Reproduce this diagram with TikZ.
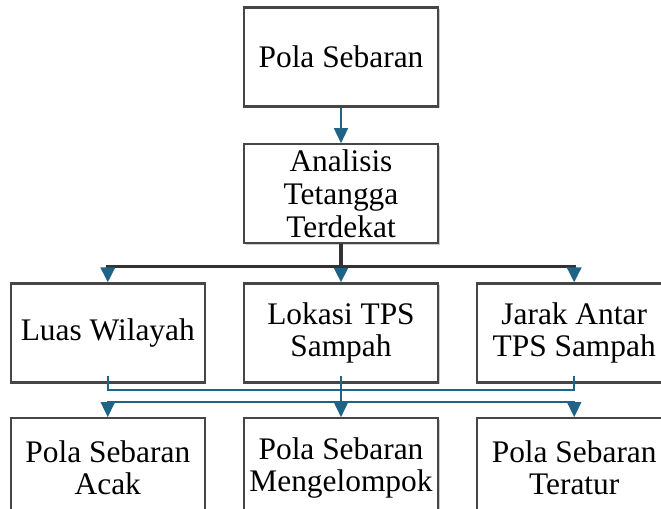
\documentclass[tikz,border=0pt]{standalone}
\usepackage{fontspec}
\setmainfont{Liberation Serif}
\usetikzlibrary{arrows.meta,positioning,shadows}
\definecolor{psBlue}{RGB}{31,99,134}
\definecolor{psGrey}{RGB}{70,70,70}
\definecolor{psDark}{RGB}{50,50,50}

\begin{document}
\begin{tikzpicture}[
  x=0.5pt,y=0.5pt,
  >={Triangle[length=7.5pt,width=7pt,color=psBlue]},
  node distance=17.8pt and 18.5pt,
  psbox/.style={draw=psGrey,fill=white,line width=1.1pt,align=center,
               minimum width=97pt,minimum height=49.5pt,inner sep=1pt,
               font=\fontsize{15.7}{16.3}\selectfont,
               drop shadow={shadow xshift=0.8pt,shadow yshift=-0.8pt,opacity=0.4}},
  trunk/.style={->,psDark,line width=1.7pt},
  bus/.style={psBlue,line width=0.9pt},
]
\useasboundingbox (-341,57) rectangle (320,-452);
\clip (-341,57) rectangle (320,-452);
\node[psbox] (pola) at (0,0) {Pola Sebaran};
\node[psbox,below=of pola] (ana) {Analisis\\Tetangga\\Terdekat};
\node[psbox,below=19pt of ana] (lok) {Lokasi TPS\\Sampah};
\node[psbox,left=of lok] (luas) {Luas Wilayah};
\node[psbox,right=of lok] (jar) {Jarak Antar\\TPS Sampah};
\node[psbox,below=16.8pt of lok] (kelompok) {Pola Sebaran\\Mengelompok};
\node[psbox,below=16.8pt of luas] (acak) {Pola Sebaran\\Acak};
\node[psbox,below=16.8pt of jar] (teratur) {Pola Sebaran\\Teratur};
\coordinate (split) at ([yshift=-11pt]ana.south);
\coordinate (join) at ([yshift=-3pt]lok.south);
\coordinate (fork) at ([yshift=-9pt]lok.south);
\draw[->,psBlue,line width=0.75pt] (pola) -- (ana);
\draw[trunk] (ana.south) -- (lok.north);
\draw[trunk] (split) -| (luas.north);
\draw[trunk] (split) -| (jar.north);
\draw[bus] ([yshift=4pt]luas.south) |- (join) -| ([yshift=4pt]jar.south);
\draw[bus] ([yshift=4pt]lok.south) -- (fork);
\draw[bus,->] (fork) -| (acak.north);
\draw[bus,->] (fork) -- (kelompok.north);
\draw[bus,->] (fork) -| (teratur.north);
\end{tikzpicture}
\end{document}
